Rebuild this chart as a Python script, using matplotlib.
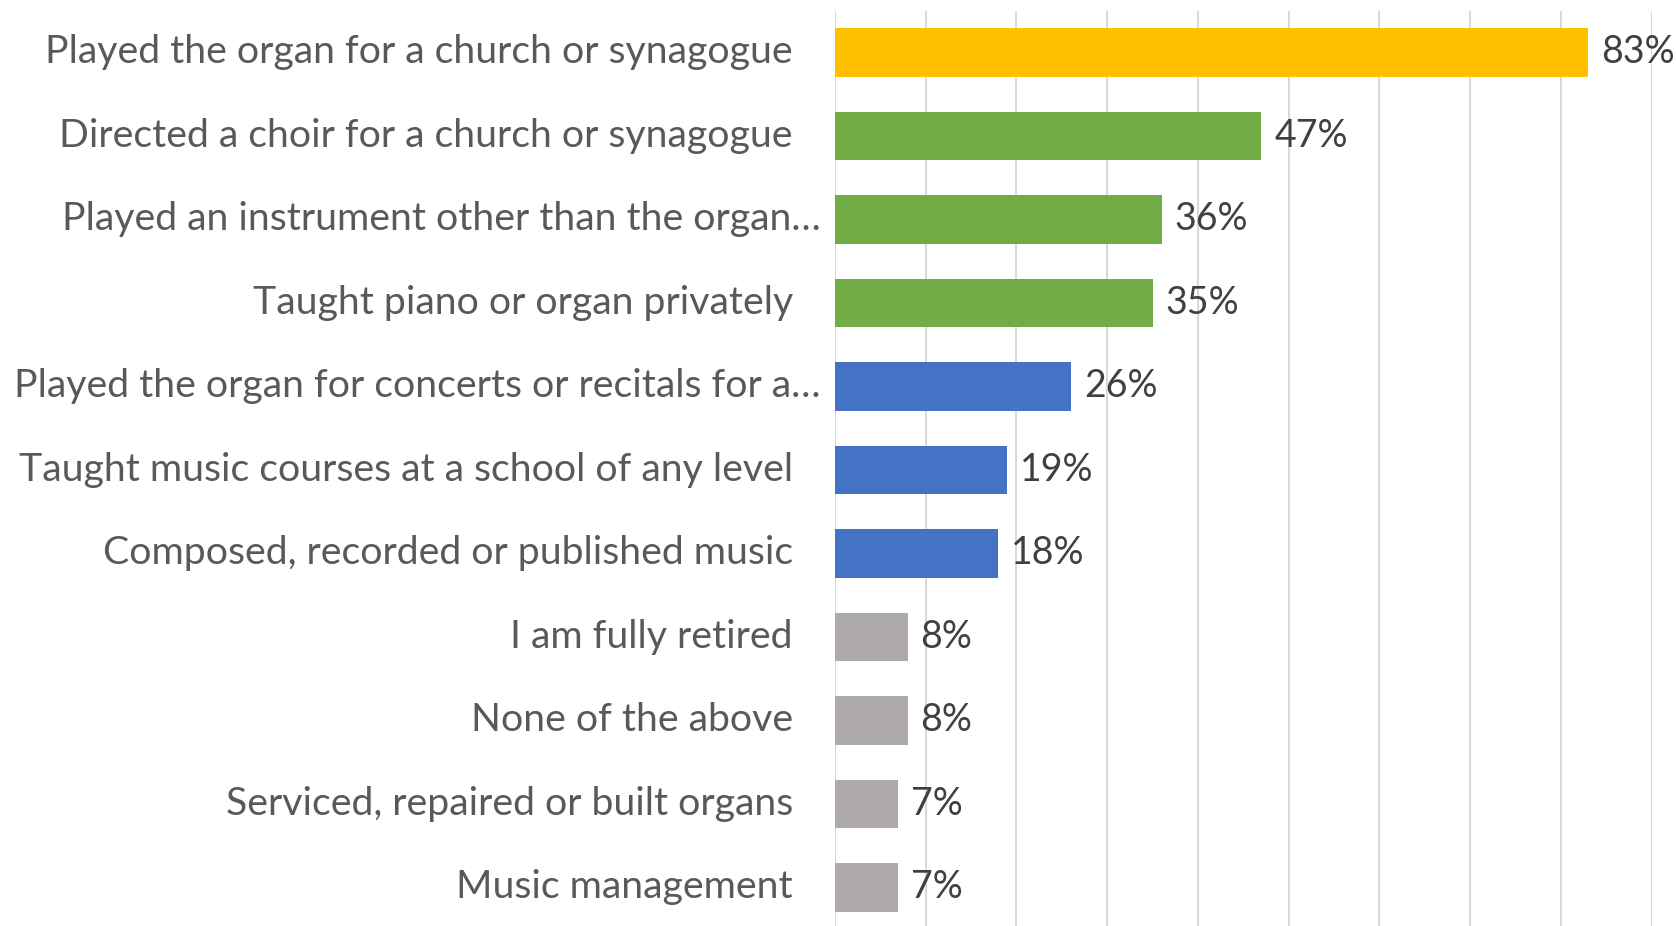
import matplotlib.pyplot as plt

categories = [
    "Played the organ for a church or synagogue",
    "Directed a choir for a church or synagogue",
    "Played an instrument other than the organ\u2026",
    "Taught piano or organ privately",
    "Played the organ for concerts or recitals for a\u2026",
    "Taught music courses at a school of any level",
    "Composed, recorded or published music",
    "I am fully retired",
    "None of the above",
    "Serviced, repaired or built organs",
    "Music management",
]
values = [83, 47, 36, 35, 26, 19, 18, 8, 8, 7, 7]
groups = ["top", "high", "high", "high", "mid", "mid", "mid",
          "low", "low", "low", "low"]

colors = {"top": "#FFC000", "high": "#70AD47", "mid": "#4472C4", "low": "#AEAAAA"}

plt.rcParams['font.family'] = ['Lato', 'DejaVu Sans']

fig = plt.figure(figsize=(16.76, 9.26), dpi=100)
ax = fig.add_axes([0.4982, -0.0035, 0.4872, 0.992])

y = list(range(len(categories)))
vals = [v / 100 for v in values]
ax.barh(y, vals, height=0.58, color=[colors[g] for g in groups], zorder=2)

ax.set_xlim(0, 0.9)
ax.set_ylim(len(categories) - 0.5, -0.5)
ax.set_xticks([i / 10 for i in range(10)])
ax.grid(axis='x', color='#D9D9D9', linewidth=1.5, zorder=0)
ax.tick_params(left=False, bottom=False, labelbottom=False, labelleft=False)
for s in ax.spines.values():
    s.set_visible(False)

# category labels, right aligned against the axis
for i, label in enumerate(categories):
    off = -14 if label.endswith("\u2026") else -42
    ax.annotate(label, xy=(0, i), xycoords=('axes fraction', 'data'),
                xytext=(off, 0), textcoords='offset pixels',
                ha='right', va='center', fontsize=28.3, color='#595959',
                annotation_clip=False)

# value labels
for i, v in enumerate(values):
    ax.annotate(f"{v}%", xy=(v / 100, i), xytext=(13, 0),
                textcoords='offset pixels', ha='left', va='center',
                fontsize=27, color='#404040', annotation_clip=False)

fig.savefig('out.png', dpi=100)
